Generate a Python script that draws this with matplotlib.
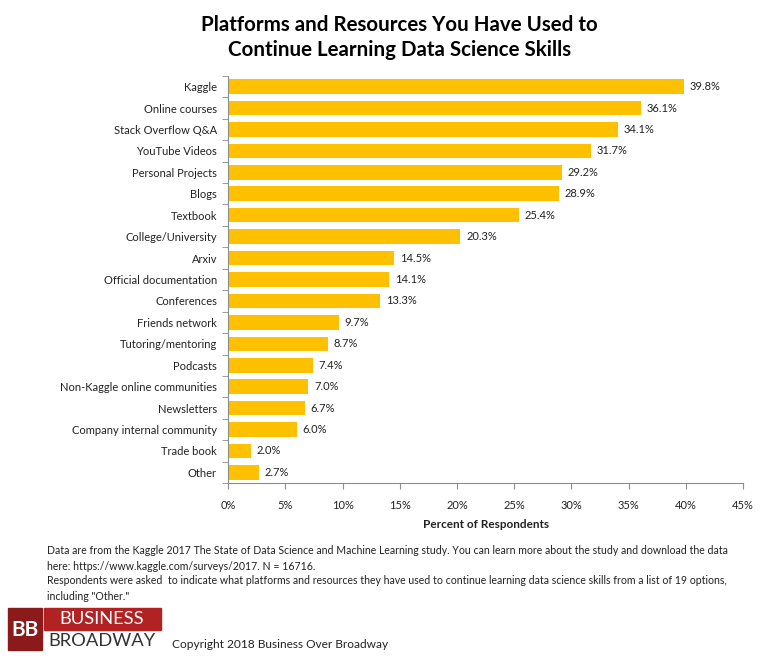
import matplotlib
matplotlib.use("Agg")
import matplotlib.pyplot as plt
from matplotlib.patches import Rectangle
from matplotlib.ticker import FuncFormatter

# Données
categories = [
    "Kaggle", "Online courses", "Stack Overflow Q&A", "YouTube Videos",
    "Personal Projects", "Blogs", "Textbook", "College/University", "Arxiv",
    "Official documentation", "Conferences", "Friends network",
    "Tutoring/mentoring", "Podcasts", "Non-Kaggle online communities",
    "Newsletters", "Company internal community", "Trade book", "Other",
]
values = [39.8, 36.1, 34.1, 31.7, 29.2, 28.9, 25.4, 20.3, 14.5, 14.1,
          13.3, 9.7, 8.7, 7.4, 7.0, 6.7, 6.0, 2.0, 2.7]
xticks = [0, 5, 10, 15, 20, 25, 30, 35, 40, 45]

BAR_COLOR = "#FFC000"
AXIS_COLOR = "#8C8C8C"
TEXT_COLOR = "#222222"

plt.rcParams["font.family"] = ["Lato", "DejaVu Sans"]

fig = plt.figure(figsize=(7.68, 6.6), dpi=100)
ax = fig.add_axes([0.297, 0.268, 0.6705, 0.617])

ypos = list(range(len(categories)))
ax.barh(ypos, values, height=0.68, color=BAR_COLOR)
ax.set_ylim(len(categories) - 0.5, -0.5)
ax.set_xlim(0, 45)

ax.set_yticks(ypos)
ax.set_yticklabels(categories, fontsize=8, color=TEXT_COLOR)
ax.set_yticks([y + 0.5 for y in [-1] + ypos], minor=True)
ax.tick_params(axis="y", which="major", length=0, pad=8)
ax.tick_params(axis="y", which="minor", length=4, color=AXIS_COLOR)

ax.set_xticks(xticks)
ax.xaxis.set_major_formatter(FuncFormatter(lambda v, p: f"{v:.0f}%"))
ax.tick_params(axis="x", length=4, color=AXIS_COLOR, labelsize=8,
               labelcolor=TEXT_COLOR, pad=8)
ax.set_xlabel("Percent of Respondents", fontsize=8.5, fontweight="bold",
              color=TEXT_COLOR, labelpad=6)

for s in ["top", "right"]:
    ax.spines[s].set_visible(False)
for s in ["left", "bottom"]:
    ax.spines[s].set_color(AXIS_COLOR)

for y, v in zip(ypos, values):
    ax.text(v + 0.5, y, f"{v:.1f}%", va="center", ha="left", fontsize=8,
            color=TEXT_COLOR)

fig.text(0.52, 0.962, "Platforms and Resources You Have Used to",
         ha="center", va="center", fontsize=14.8, fontweight="bold")
fig.text(0.52, 0.924, "Continue Learning Data Science Skills",
         ha="center", va="center", fontsize=14.8, fontweight="bold")

notes = [
    "Data are from the Kaggle 2017 The State of Data Science and Machine Learning study. You can learn more about the study and download the data",
    "here: https://www.kaggle.com/surveys/2017. N = 16716.",
    "Respondents were asked  to indicate what platforms and resources they have used to continue learning data science skills from a list of 19 options,",
    "including \"Other.\"",
]
for i, line in enumerate(notes):
    fig.text(47 / 768, 1 - (551 + 15 * i) / 660, line, ha="left", va="center",
             fontsize=7.6, color=TEXT_COLOR)

# Logo Business Broadway
W, H = 768, 660
def box(x, y, w, h, color):
    fig.patches.append(Rectangle((x / W, 1 - (y + h) / H), w / W, h / H,
                                 transform=fig.transFigure, color=color))

box(8, 608, 34, 42, "#8B1A1A")
box(44, 608, 117, 22, "#B22222")
fig.text(25 / W, 1 - 630 / H, "BB", ha="center", va="center", fontsize=15,
         fontweight="bold", color="white")
fig.text(102 / W, 1 - 619 / H, "BUSINESS", ha="center", va="center",
         fontsize=13.2, color="white")
fig.text(102 / W, 1 - 641 / H, "BROADWAY", ha="center", va="center",
         fontsize=13.2, color="#333333")
fig.text(172 / W, 1 - 645 / H, "Copyright 2018 Business Over Broadway",
         ha="left", va="center", fontsize=8.6, color=TEXT_COLOR)

fig.savefig("out.png", dpi=100)
